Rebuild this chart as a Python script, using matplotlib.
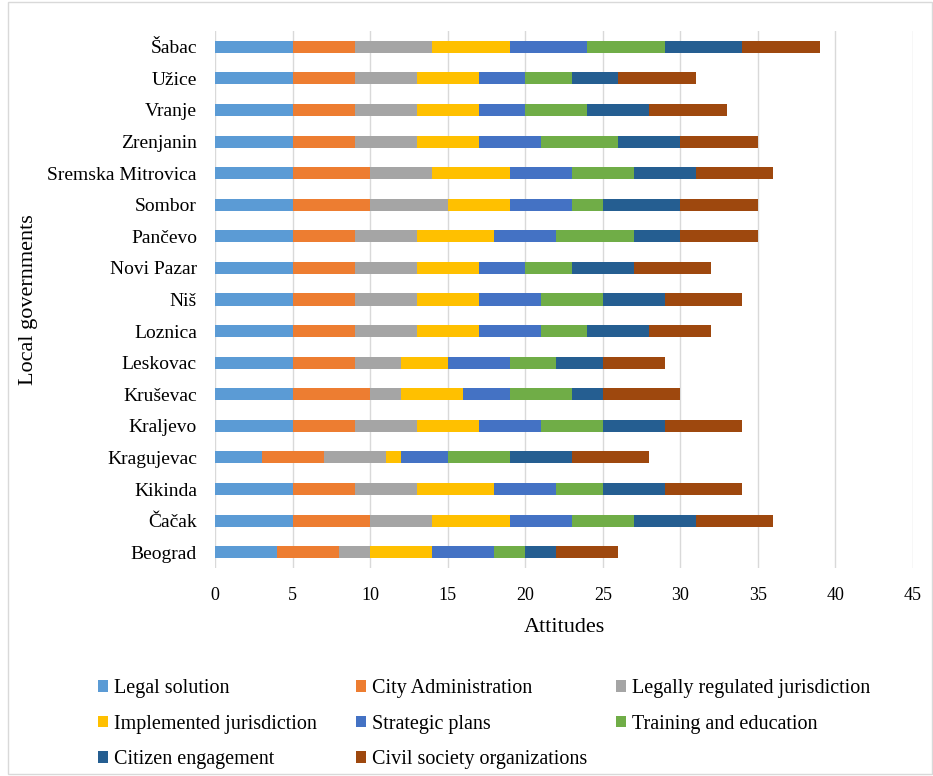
import matplotlib
matplotlib.use('Agg')
import matplotlib.pyplot as plt
import numpy as np

# cities from bottom to top
cities = ['Beograd', 'Čačak', 'Kikinda', 'Kragujevac', 'Kraljevo', 'Kruševac',
          'Leskovac', 'Loznica', 'Niš', 'Novi Pazar', 'Pančevo', 'Sombor',
          'Sremska Mitrovica', 'Zrenjanin', 'Vranje', 'Užice', 'Šabac']

series_names = ['Legal solution', 'City Administration', 'Legally regulated jurisdiction',
                'Implemented jurisdiction', 'Strategic plans', 'Training and education',
                'Citizen engagement', 'Civil society organizations']

legal_solution = [4, 5, 5, 3, 5, 5, 5, 5, 5, 5, 5, 5, 5, 5, 5, 5, 5]
city_admin = [4, 5, 4, 4, 4, 5, 4, 4, 4, 4, 4, 5, 5, 4, 4, 4, 4]
legally_regulated = [2, 4, 4, 4, 4, 2, 3, 4, 4, 4, 4, 5, 4, 4, 4, 4, 5]
implemented = [4, 5, 5, 1, 4, 4, 3, 4, 4, 4, 5, 4, 5, 4, 4, 4, 5]
strategic_plans = [4, 4, 4, 3, 4, 3, 4, 4, 4, 3, 4, 4, 4, 4, 3, 3, 5]
training = [2, 4, 3, 4, 4, 4, 3, 3, 4, 3, 5, 2, 4, 5, 4, 3, 5]
citizen = [2, 4, 4, 4, 4, 2, 3, 4, 4, 4, 3, 5, 4, 4, 4, 3, 5]
civil_society = [4, 5, 5, 5, 5, 5, 4, 4, 5, 5, 5, 5, 5, 5, 5, 5, 5]

colors = ['#5B9BD5', '#ED7D31', '#A5A5A5', '#FFC000',
          '#4472C4', '#70AD47', '#255E91', '#9E480E']

plt.rcParams['font.family'] = ['Liberation Serif', 'DejaVu Serif']
plt.rcParams['font.size'] = 13

fig = plt.figure(figsize=(9.33, 7.76), dpi=100)
ax = fig.add_axes([215 / 933, 1 - 568 / 776, 698 / 933, 537 / 776])

data = [legal_solution, city_admin, legally_regulated, implemented,
        strategic_plans, training, citizen, civil_society]
y_pos = np.arange(len(cities))
left = np.zeros(len(cities))
bars = []
for name, vals, col in zip(series_names, data, colors):
    b = ax.barh(y_pos, vals, height=0.38, left=left, color=col, label=name, zorder=3)
    bars.append(b)
    left += np.array(vals)

ax.set_xlim(0, 45)
ax.set_ylim(-0.5, len(cities) - 0.5)
ax.set_xticks(np.arange(0, 46, 5))
ax.set_yticks(y_pos)
ax.set_yticklabels(cities, fontsize=14)
ax.tick_params(axis='x', labelsize=13, length=0, pad=14)
ax.tick_params(axis='y', length=0, pad=13)
ax.grid(axis='x', color='#d9d9d9', linewidth=1, zorder=0)
for s in ax.spines.values():
    s.set_visible(False)

ax.set_xlabel('Attitudes', fontsize=16, labelpad=10)
ax.set_ylabel('Local governments', fontsize=16)
ax.yaxis.set_label_coords(-0.253, 0.5)

# legend laid out row by row, one legend per column
col_x = [80, 338, 598]
for c in range(3):
    idx = list(range(c, len(series_names), 3))
    leg = fig.legend([bars[i] for i in idx], [series_names[i] for i in idx],
                     loc='upper left', bbox_to_anchor=(col_x[c] / 933, 1 - 661 / 776),
                     ncol=1, frameon=False, fontsize=14.5, handlelength=0.5,
                     handleheight=0.5, handletextpad=0.3, labelspacing=0.82)

# outer chart border
fig.patches.append(plt.Rectangle((8 / 933, 0.002), 1 - 9 / 933, 0.996,
                                 transform=fig.transFigure, fill=False,
                                 edgecolor='#d9d9d9', linewidth=1))

fig.savefig('out.png', dpi=100)
